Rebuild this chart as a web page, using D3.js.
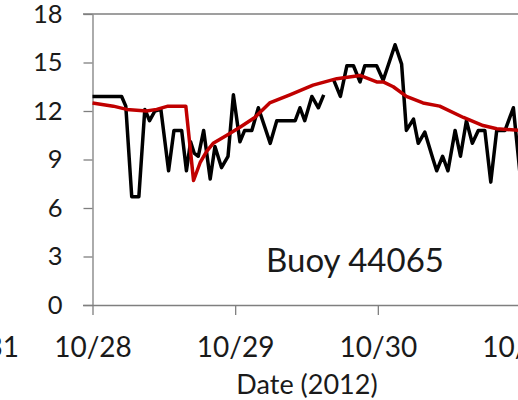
<!DOCTYPE html>
<html>
<head>
<meta charset="utf-8">
<script src="https://cdn.jsdelivr.net/npm/d3@7"></script>
<style>
  html, body { margin: 0; padding: 0; background: #fff; }
  svg { display: block; font-family: Lato, "Open Sans", sans-serif; }
</style>
</head>
<body>
<script>
// Hours after 2012-10-28 00:00 and values (observed, black)
const obsHours = [0, 4.9, 5.6, 6.6, 7.8, 8.8, 9.6, 10.5, 11.5, 12.8, 13.7, 15.0, 15.8, 16.5, 17.1, 17.8, 18.7,
  19.8, 20.6, 21.7, 22.8, 23.7, 24.8, 25.6, 26.8, 27.9, 29.9, 31.0, 34.1, 34.9, 35.7, 36.9, 38.0, 38.9,
  null,
  40.6, 41.7, 42.8, 43.9, 45.0, 45.8, 47.8, 48.9, 50.9, 52.0, 52.8, 54.0, 54.8, 55.9, 57.3, 57.9, 58.9,
  59.8, 61.0, 61.9, 62.9, 63.9, 64.9, 66.0, 67.0, 68.0, 69.4, 70.8, 72.0];
const obsValues = [12.9, 12.9, 12.3, 6.7, 6.7, 12.1, 11.4, 12.0, 12.1, 8.3, 10.8, 10.8, 8.3, 10.1, 9.4, 9.2, 10.8,
  7.8, 9.8, 8.5, 9.2, 13.0, 10.1, 10.8, 10.8, 12.2, 10.0, 11.4, 11.4, 12.2, 11.4, 12.9, 12.2, 13.0,
  null,
  13.9, 12.9, 14.8, 14.8, 13.8, 14.8, 14.8, 13.9, 16.1, 14.9, 10.8, 11.5, 10.0, 10.7, 9.0, 8.3, 9.2,
  8.3, 10.8, 9.2, 11.4, 10.0, 10.8, 10.8, 7.6, 10.8, 10.8, 12.2, 7.8];

// Model (red)
const modHours = [0, 3.5, 5.75, 9.1, 10.8, 12.7, 15.7, 17.0, 18.1, 19.2, 20.3, 22.6, 24.8, 27.3, 29.8, 33.2,
  37.1, 41.1, 45.0, 47.8, 48.9, 50.6, 52.8, 55.6, 58.4, 62.4, 65.7, 68.0, 72.0];
const modValues = [12.5, 12.3, 12.1, 12.0, 12.1, 12.3, 12.3, 7.7, 8.8, 9.5, 10.0, 10.5, 11.0, 11.6, 12.5, 13.0,
  13.6, 14.0, 14.2, 13.8, 13.8, 13.5, 12.9, 12.5, 12.3, 11.6, 11.1, 10.9, 10.8];

const yTicks = [0, 3, 6, 9, 12, 15, 18];
const xTickDays = ["2012-10-28", "2012-10-29", "2012-10-30", "2012-10-31"];
const stationLabel = "Buoy 44065";
const xTitle = "Date (2012)";

const W = 518, H = 400;
const start = new Date(2012, 9, 28);
const toDate = h => new Date(start.getTime() + h * 3600e3);
const parseDay = d3.timeParse("%Y-%m-%d");

const svg = d3.select("body").append("svg").attr("width", W).attr("height", H);

const x = d3.scaleTime().domain([start, new Date(2012, 9, 31)]).range([92.5, 520.5]);
const y = d3.scaleLinear().domain([0, 18]).range([305, 14]);

const axisColor = "#7f7f7f";

// top border line at 18
svg.append("line").attr("x1", 83).attr("x2", W).attr("y1", y(18)).attr("y2", y(18))
  .attr("stroke", axisColor).attr("stroke-width", 1.3);

// Y axis
const yAxis = svg.append("g").attr("transform", `translate(${x(start)},0)`)
  .call(d3.axisLeft(y).tickValues(yTicks).tickSize(9).tickSizeOuter(0).tickPadding(21));
yAxis.select(".domain").attr("stroke", axisColor).attr("stroke-width", 1.3);
yAxis.selectAll(".tick line").attr("stroke", axisColor).attr("stroke-width", 1.3);
yAxis.selectAll("text").attr("font-size", 25.5).attr("fill", "#1a1a1a")
  .attr("font-family", "Lato, 'Open Sans', sans-serif");

// X axis
const xAxis = svg.append("g").attr("transform", `translate(0,${y(0)})`)
  .call(d3.axisBottom(x).tickValues(xTickDays.map(parseDay)).tickFormat(d3.timeFormat("%m/%d"))
    .tickSize(10).tickSizeOuter(0).tickPadding(22));
xAxis.select(".domain").attr("d", `M83,0.5H${W}`).attr("stroke", axisColor).attr("stroke-width", 1.3);
xAxis.selectAll(".tick line").attr("stroke", axisColor).attr("stroke-width", 1.3);
xAxis.selectAll("text").attr("font-size", 28).attr("fill", "#1a1a1a")
  .attr("font-family", "Lato, 'Open Sans', sans-serif");

// partial neighbour label at left
svg.append("text").attr("x", 19).attr("y", 357).attr("text-anchor", "end")
  .attr("font-size", 28).attr("fill", "#1a1a1a").text("10/31");

// axis title
svg.append("text").attr("x", 307).attr("y", 394).attr("text-anchor", "middle")
  .attr("font-size", 27).attr("fill", "#1a1a1a").text(xTitle);

// station label
svg.append("text").attr("x", 266).attr("y", 272).attr("font-size", 33).attr("fill", "#1a1a1a").text(stationLabel);

// lines
const obs = obsHours.map((h, i) => ({ h, v: obsValues[i] }));
const mod = modHours.map((h, i) => ({ h, v: modValues[i] }));
const line = d3.line().defined(d => d.h !== null && d.v !== null)
  .x(d => x(toDate(d.h))).y(d => y(d.v));

svg.append("path").datum(obs).attr("d", line).attr("fill", "none")
  .attr("stroke", "#000").attr("stroke-width", 3.5).attr("stroke-linejoin", "round");
svg.append("path").datum(mod).attr("d", line).attr("fill", "none")
  .attr("stroke", "#c00000").attr("stroke-width", 3.5).attr("stroke-linejoin", "round");
</script>
</body>
</html>
